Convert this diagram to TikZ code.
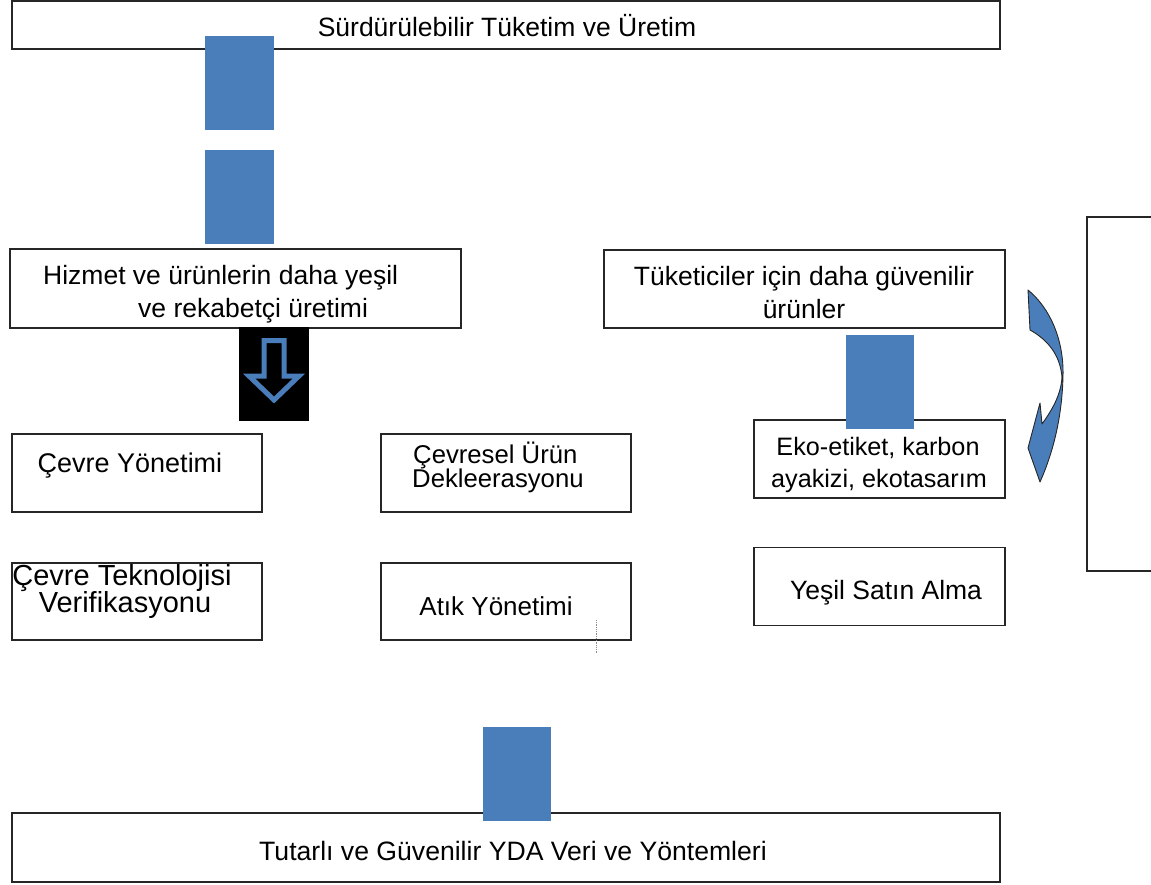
\documentclass[tikz,border=0pt]{standalone}
\usepackage{fontspec}
\setmainfont{Liberation Sans}
\definecolor{barblue}{HTML}{4A7EBB}
\definecolor{edge}{HTML}{262626}
\newcommand{\fs}[1]{\fontsize{#1}{#1}\selectfont}
\begin{document}
\begin{tikzpicture}[x=1pt,y=-1pt,
  box/.style={draw=edge,line width=1.3pt,fill=white,rectangle,inner sep=0pt},
  bar/.style={fill=barblue,draw=none,rectangle,inner sep=0pt,minimum width=69pt},
  lbl/.style={inner sep=0pt,anchor=base,text=black},
  lblw/.style={inner sep=0pt,anchor=base west,text=black}]
\useasboundingbox (0,0) rectangle (1151,885);
\clip (0,0) rectangle (1151,885);

% frames
\node[box,minimum width=988pt,minimum height=48pt] (top) at (506,25) {};
\node[box,minimum width=451pt,minimum height=79pt] (green) at (235.5,288.5) {};
\node[box,minimum width=401pt,minimum height=78pt] (cons) at (804.5,289) {};
\node[box,minimum width=250pt,minimum height=78pt] (envm) at (137,473) {};
\node[box,minimum width=250pt,minimum height=78pt] (epd) at (506,473) {};
\node[box,minimum width=251pt,minimum height=78pt] (eco) at (879.5,459) {};
\node[box,minimum width=250pt,minimum height=77pt] (etv) at (137,601.5) {};
\node[box,minimum width=250pt,minimum height=77pt] (waste) at (506,601.5) {};
\node[box,minimum width=251pt,minimum height=78pt] (gpp) at (879.5,586.5) {};
\node[box,minimum width=988pt,minimum height=69pt] (base) at (506,847.5) {};
\draw[draw=edge,line width=1.3pt] (1160,217) -| (1087,571) -- (1160,571);

% texts
\node[lbl] (ttop) at (507,37) {\fs{26.5}Sürdürülebilir Tüketim ve Üretim};
\node[lblw] (tgreen1) at (43,285) {\fs{26.5}Hizmet ve ürünlerin daha yeşil};
\node[lblw] (tgreen2) at (138,317) {\fs{26.5}ve rekabetçi üretimi};
\node[lbl] (tcons1) at (804,286) {\fs{26.5}Tüketiciler için daha güvenilir};
\node[lbl] (tcons2) at (804,318) {\fs{26.5}ürünler};
\node[lbl] (tenvm) at (130,472) {\fs{27}Çevre Yönetimi};
\node[lblw] (tepd1) at (413,463) {\fs{25.7}Çevresel Ürün};
\node[lblw] (tepd2) at (412,487) {\fs{25.7}Dekleerasyonu};
\node[lbl] (teco1) at (878,455) {\fs{25.2}Eko-etiket, karbon};
\node[lbl] (teco2) at (879,487) {\fs{25.2}ayakizi, ekotasarım};
\node[lbl] (tetv1) at (122,585) {\fs{29}Çevre Teknolojisi};
\node[lbl] (tetv2) at (125,612) {\fs{29}Verifikasyonu};
\node[lbl] (twaste) at (496,615) {\fs{26}Atık Yönetimi};
\node[lbl] (tgpp) at (886,599) {\fs{26.5}Yeşil Satın Alma};
\node[lbl] (tbase) at (513,860) {\fs{26.6}Tutarlı ve Güvenilir YDA Veri ve Yöntemleri};

% blue bars
\node[bar,minimum height=94pt] (b1) at (239.5,83) {};
\node[bar,minimum height=94pt] (b2) at (239.5,197) {};
\node[bar,minimum height=94pt,minimum width=68pt] (b3) at (880,382) {};
\node[bar,minimum height=94pt,minimum width=68pt] (b4) at (517,774) {};

% black tile with hollow down arrow
\node[fill=black,rectangle,inner sep=0pt,minimum width=70pt,minimum height=94pt] (tile) at (274,373.5) {};
\draw[barblue,line width=5pt,line join=miter]
  (264,340.5) -- (284,340.5) -- (284,376) -- (299,376) -- (274,400)
  -- (249,376) -- (264,376) -- cycle;

% curved arrow beside the right column
\draw[fill=barblue,draw=black!85,line width=0.9pt,line join=round]
  (1028,290) .. controls (1050,308) and (1064,340) .. (1063,376)
  .. controls (1062,420) and (1052,455) .. (1040,482)
  -- (1028,448) -- (1040,403) -- (1042,424)
  .. controls (1052,410) and (1061,395) .. (1062,377)
  .. controls (1060,355) and (1048,340) .. (1030,330) -- cycle;

% faint dotted mark below the waste box
\draw[black!45,line width=0.8pt,densely dotted] (596,620) -- (596,653);
\end{tikzpicture}
\end{document}
